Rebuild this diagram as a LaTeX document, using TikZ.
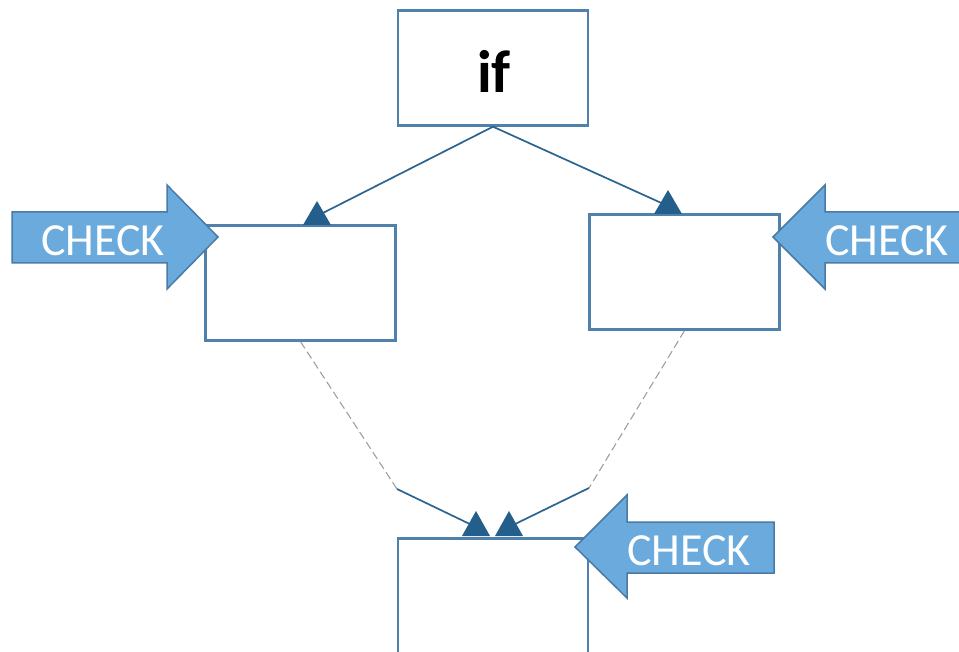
\documentclass[tikz,border=0pt]{standalone}
\usepackage{fontspec}
\setmainfont{Carlito}
\definecolor{boxline}{RGB}{80,128,172}
\definecolor{conn}{RGB}{42,100,145}
\definecolor{tip}{RGB}{36,94,138}
\definecolor{chkfill}{RGB}{106,170,220}
\definecolor{chkline}{RGB}{74,122,165}
\definecolor{dashgray}{RGB}{160,160,160}
\tikzset{
  blockbox/.style={draw=boxline, line width=2.4pt, fill=white, minimum width=190pt, minimum height=115pt, inner sep=0pt},
  connline/.style={draw=conn, line width=1.7pt},
  dashline/.style={draw=dashgray, line width=1.1pt, dash pattern=on 8pt off 4pt},
  tiptri/.style={fill=tip},
  chkarrow/.style={fill=chkfill, draw=chkline, line width=1.5pt, line join=miter},
  chktext/.style={text=white, font=\fontsize{46}{50}\selectfont, inner sep=0pt}
}
\begin{document}
\begin{tikzpicture}[x=1pt,y=-1pt]
\clip (0,0) rectangle (959,652);
\fill[white] (0,0) rectangle (959,652);
% boxes
\node[blockbox] (ifbox) at (493,68) {};
\node[inner sep=0pt, anchor=base] (iftext) at (494,93) {\fontsize{60}{64}\selectfont\bfseries if};
\node[blockbox] (leftbox) at (300.5,283) {};
\node[blockbox] (rightbox) at (684.5,272) {};
\node[blockbox] (bottombox) at (493,596) {};
% coordinates
\coordinate (la) at (317,216);
\coordinate (ra) at (668,206);
\coordinate (lb) at (397,489);
\coordinate (rb) at (589,488);
\coordinate (b1) at (476,527);
\coordinate (b2) at (509,527);
% connectors
\draw[connline] (ifbox.south) -- (la);
\draw[connline] (ifbox.south) -- (ra);
\draw[dashline] (leftbox.south) -- (lb);
\draw[dashline] (rightbox.south) -- (rb);
\draw[connline] (lb) -- (b1);
\draw[connline] (rb) -- (b2);
% triangle tips
\fill[tiptri] (317,201) -- (331,225) -- (303,225) -- cycle;
\fill[tiptri] (668,190) -- (682,214) -- (654,214) -- cycle;
\fill[tiptri] (476,511) -- (490,536) -- (462,536) -- cycle;
\fill[tiptri] (509,511) -- (523,536) -- (495,536) -- cycle;
% CHECK arrows
\draw[chkarrow] (12,212) -- (167,212) -- (167,185) -- (218,237) -- (167,289) -- (167,263) -- (12,263) -- cycle;
\node[chktext] (chk1) at (103,241) {CHECK};
\draw[chkarrow] (773,237) -- (825,185) -- (825,212) -- (975,212) -- (975,263) -- (825,263) -- (825,289) -- cycle;
\node[chktext] (chk2) at (887,241) {CHECK};
\draw[chkarrow] (575,547) -- (627,495) -- (627,522) -- (774,522) -- (774,573) -- (627,573) -- (627,598) -- cycle;
\node[chktext] (chk3) at (689,551) {CHECK};
\end{tikzpicture}
\end{document}
